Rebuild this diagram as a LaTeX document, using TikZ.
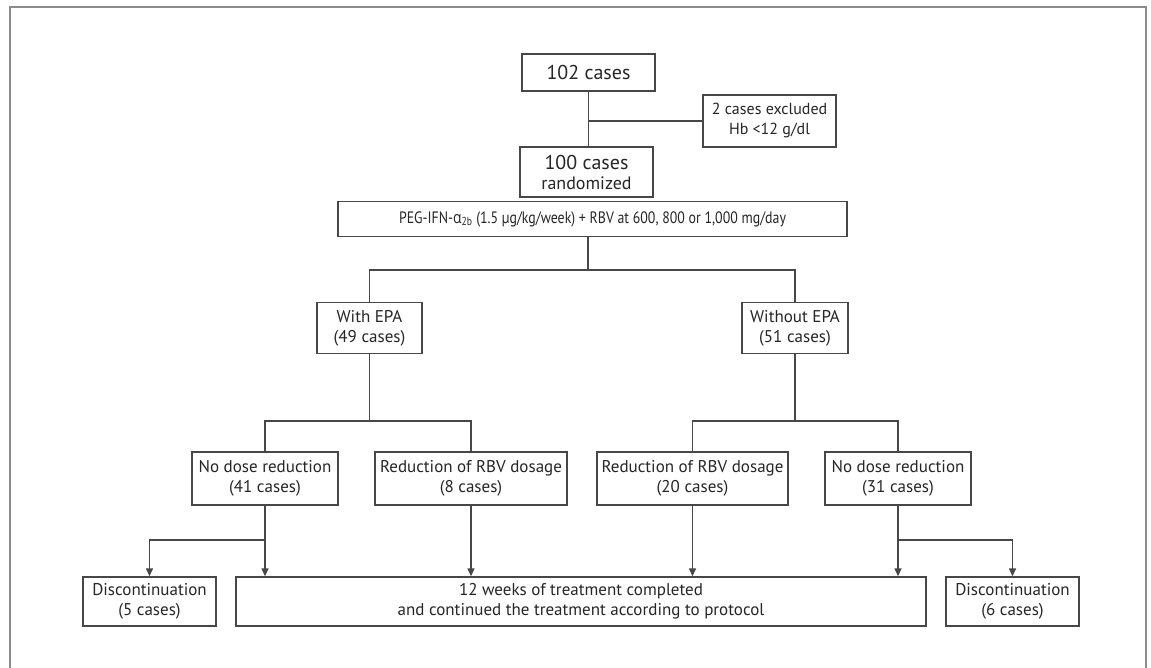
\documentclass[tikz,border=0pt]{standalone}
\usepackage{fontspec}
\usepackage{graphicx}
\setmainfont{PT Sans}
\newfontfamily\grk{Open Sans}
\usetikzlibrary{arrows.meta}
\definecolor{ln}{HTML}{474747}
\definecolor{fr}{HTML}{8C8C8C}
\definecolor{tx}{HTML}{262626}
\tikzset{
  bx/.style={draw=ln, line width=1.4pt, inner sep=0pt, align=center, text=tx,
    font=\fontsize{17}{20}\selectfont},
  big/.style={font=\fontsize{20}{22}\selectfont},
  con/.style={draw=ln, line width=1.4pt},
  arr/.style={con, -{Triangle[length=8pt,width=7pt]}},
}
\begin{document}
\begin{tikzpicture}[x=1pt,y=-1pt]
\useasboundingbox (0,0) rectangle (1151,668);
\fill[white] (0,0) rectangle (1151,668);
\draw[fr, line width=1.5pt] (10,668) -- (10,7) -- (1146,7) -- (1146,668);

\node[bx, big, minimum width=133pt, minimum height=37pt] (c102) at (588.5,72.5) {102 cases};
\node[bx, minimum width=133pt, minimum height=52pt, font=\fontsize{16}{20}\selectfont] (excl) at (769.5,121) {2 cases excluded\\Hb <12 g/dl};
\node[bx, minimum width=133pt, minimum height=50pt, font=\fontsize{18}{20}\selectfont] (c100) at (586.5,172) {{\fontsize{20}{22}\selectfont 100 cases}\\randomized};
\node[bx, minimum width=509pt, minimum height=35pt, font=\fontsize{16.5}{18}\selectfont] (peg) at (592.5,219)
  {\scalebox{0.84}[1]{PEG-IFN-{\grk α}\textsubscript{2b} (1.5 µg/kg/week) + RBV at 600, 800 or 1,000 mg/day}};
\node[bx, minimum width=105pt, minimum height=51pt] (with) at (369.5,328) {With EPA\\(49 cases)};
\node[bx, minimum width=106pt, minimum height=51pt] (without) at (795,328) {Without EPA\\(51 cases)};
\node[bx, minimum width=146pt, minimum height=53pt] (nd41) at (265,478.5) {No dose reduction\\(41 cases)};
\node[bx, minimum width=192pt, minimum height=53pt] (r8) at (471,478.5) {Reduction of RBV dosage\\(8 cases)};
\node[bx, minimum width=191pt, minimum height=53pt] (r20) at (692.5,478.5) {Reduction of RBV dosage\\(20 cases)};
\node[bx, minimum width=146pt, minimum height=53pt] (nd31) at (898,478.5) {No dose reduction\\(31 cases)};
\node[bx, minimum width=133pt, minimum height=49pt] (d5) at (149.5,601.5) {Discontinuation\\(5 cases)};
\node[bx, minimum width=690pt, minimum height=49pt] (tw) at (581,601.5) {12 weeks of treatment completed\\and continued the treatment according to protocol};
\node[bx, minimum width=133pt, minimum height=49pt] (d6) at (1012.5,601.5) {Discontinuation\\(6 cases)};

\coordinate (j1) at (588,270);
\coordinate (j2l) at (369.5,421);
\coordinate (j2r) at (795,421);
\coordinate (j3l) at (265,540);
\coordinate (j3r) at (898,540);

\draw[con] (c102.south) -- (c102.south |- c100.north);
\draw[con] (c102.south |- excl.west) -- (excl.west);
\draw[con] (peg.south -| j1) -- (j1);
\draw[con] (with.north) |- (j1) -| (without.north);
\draw[con] (with.south) -- (j2l);
\draw[con] (nd41.north) |- (j2l) -| (r8.north);
\draw[con] (without.south) -- (j2r);
\draw[con] (r20.north) |- (j2r) -| (nd31.north);
\draw[con] (nd41.south) -- (j3l);
\draw[arr] (j3l) -- (j3l |- tw.north);
\draw[arr] (j3l) -| (d5.north);
\draw[arr] (r8.south) -- (r8.south |- tw.north);
\draw[arr] (r20.south) -- (r20.south |- tw.north);
\draw[con] (nd31.south) -- (j3r);
\draw[arr] (j3r) -- (j3r |- tw.north);
\draw[arr] (j3r) -| (d6.north);
\end{tikzpicture}
\end{document}
